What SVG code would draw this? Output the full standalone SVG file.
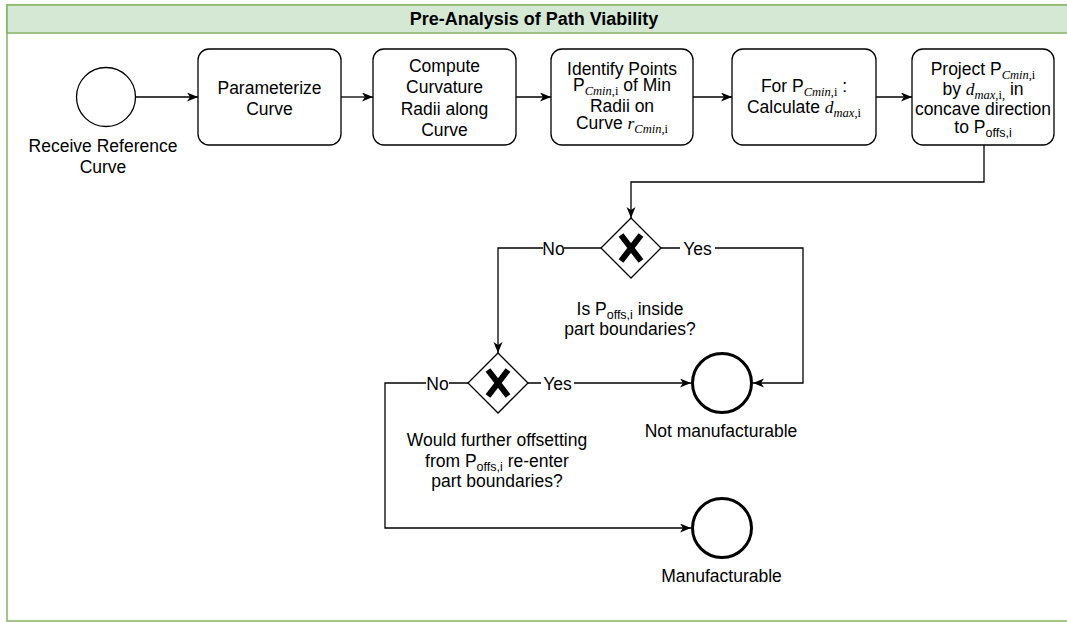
<svg xmlns="http://www.w3.org/2000/svg" width="1067" height="622" viewBox="0 0 1067 622">
<style>
text{font-family:"Liberation Sans",Arial,Helvetica,sans-serif;font-size:17.5px;fill:#000;text-anchor:middle}
.title{font-weight:bold;font-size:18px}
.m{font-family:"Liberation Serif","Times New Roman",serif;font-style:italic}
.u{font-family:"Liberation Serif","Times New Roman",serif;font-style:normal}
.s{font-size:12.5px}
.box{fill:#fff;stroke:#000;stroke-width:1.3}
.start{fill:#fff;stroke:#000;stroke-width:1.3}
.end{fill:#fff;stroke:#000;stroke-width:3}
.gw{fill:#fff;stroke:#000;stroke-width:1.3}
.x{stroke:#000;stroke-width:6;stroke-linecap:butt}
.edge{fill:none;stroke:#000;stroke-width:1.3}
.lbg{fill:#fff}
</style>
<defs>
<marker id="arr" markerUnits="userSpaceOnUse" markerWidth="12" markerHeight="10" refX="11" refY="4.5" orient="auto">
<path d="M0,0 L11,4.5 L0,9 L3,4.5 z" fill="#000"/>
</marker>
</defs>
<rect width="1067" height="622" fill="#fff"/>
<g id="pool">
<rect x="7" y="5" width="1070" height="616" fill="#fff" stroke="#82b366" stroke-width="1.5"/>
<rect x="7" y="5" width="1070" height="28" fill="#d5e8d4" stroke="#82b366" stroke-width="1.5"/>
<text class="title" x="534" y="25">Pre-Analysis of Path Viability</text>
</g>
<g id="connectors">
<path class="edge" d="M136,97 H198" marker-end="url(#arr)"/>
<path class="edge" d="M341,97 H373" marker-end="url(#arr)"/>
<path class="edge" d="M516,97 H551" marker-end="url(#arr)"/>
<path class="edge" d="M693,97 H732" marker-end="url(#arr)"/>
<path class="edge" d="M876,97 H912" marker-end="url(#arr)"/>
<path class="edge" d="M984,145 V182 H631 V218" marker-end="url(#arr)"/>
<path class="edge" d="M601,248 H498 V353" marker-end="url(#arr)"/>
<path class="edge" d="M661,248 H803 V383 H753" marker-end="url(#arr)"/>
<path class="edge" d="M528,383 H691" marker-end="url(#arr)"/>
<path class="edge" d="M468,383 H385 V528 H691" marker-end="url(#arr)"/>
<rect class="lbg" x="543" y="240" width="21" height="17"/>
<text x="553.5" y="255">No</text>
<rect class="lbg" x="680" y="240" width="35" height="17"/>
<text x="697.5" y="255">Yes</text>
<rect class="lbg" x="426" y="375" width="23" height="17"/>
<text x="437.5" y="390">No</text>
<rect class="lbg" x="541" y="375" width="33" height="17"/>
<text x="557.5" y="390">Yes</text>
</g>
<g id="start">
<circle class="start" cx="106" cy="97" r="29.5"/>
<text x="103" y="152">Receive Reference</text>
<text x="103" y="173">Curve</text>
</g>
<g id="parameterize">
<rect class="box" x="198" y="49" width="143" height="96" rx="11"/>
<text x="269.5" y="94">Parameterize</text>
<text x="269.5" y="115">Curve</text>
</g>
<g id="compute">
<rect class="box" x="373" y="49" width="143" height="96" rx="11"/>
<text x="444.5" y="72">Compute</text>
<text x="444.5" y="93">Curvature</text>
<text x="444.5" y="115">Radii along</text>
<text x="444.5" y="136">Curve</text>
</g>
<g id="identify">
<rect class="box" x="551" y="49" width="142" height="96" rx="11"/>
<text x="622" y="75">Identify Points</text>
<text x="622" y="91">P<tspan class="s m" dy="4">Cmin</tspan><tspan class="s u">,i</tspan><tspan dy="-4"> of Min</tspan></text>
<text x="622" y="112">Radii on</text>
<text x="622" y="129">Curve <tspan class="m">r</tspan><tspan class="s m" dy="4">Cmin</tspan><tspan class="s u">,i</tspan></text>
</g>
<g id="calc">
<rect class="box" x="732" y="49" width="144" height="96" rx="11"/>
<text x="804" y="92">For P<tspan class="s m" dy="4">Cmin</tspan><tspan class="s u">,i</tspan><tspan dy="-4"> :</tspan></text>
<text x="804" y="113">Calculate <tspan class="m">d</tspan><tspan class="s m" dy="4">max</tspan><tspan class="s u">,i</tspan></text>
</g>
<g id="project">
<rect class="box" x="912" y="49" width="142" height="96" rx="11"/>
<text x="983" y="75">Project P<tspan class="s m" dy="4">Cmin</tspan><tspan class="s u">,i</tspan></text>
<text x="983" y="95">by <tspan class="m">d</tspan><tspan class="s m" dy="4">max</tspan><tspan class="s u">,i,</tspan><tspan dy="-4"> in</tspan></text>
<text x="983" y="115">concave direction</text>
<text x="983" y="133">to P<tspan class="s" dy="4">offs,i</tspan></text>
</g>
<g id="gateway1">
<path class="gw" d="M631,218 L661,248 L631,278 L601,248 Z"/>
<path class="x" d="M621,235 L641,261 M641,235 L621,261"/>
<text x="630" y="315">Is P<tspan class="s" dy="4">offs,i</tspan><tspan dy="-4"> inside</tspan></text>
<text x="630" y="335">part boundaries?</text>
</g>
<g id="gateway2">
<path class="gw" d="M498,353 L528,383 L498,413 L468,383 Z"/>
<path class="x" d="M488,370 L508,396 M508,370 L488,396"/>
<text x="497" y="446">Would further offsetting</text>
<text x="497" y="467">from P<tspan class="s" dy="4">offs,i</tspan><tspan dy="-4"> re-enter</tspan></text>
<text x="497" y="487">part boundaries?</text>
</g>
<g id="not-manufacturable">
<circle class="end" cx="722" cy="383" r="29.5"/>
<text x="721" y="437">Not manufacturable</text>
</g>
<g id="manufacturable">
<circle class="end" cx="722" cy="528" r="29.5"/>
<text x="721.5" y="582">Manufacturable</text>
</g>
</svg>
